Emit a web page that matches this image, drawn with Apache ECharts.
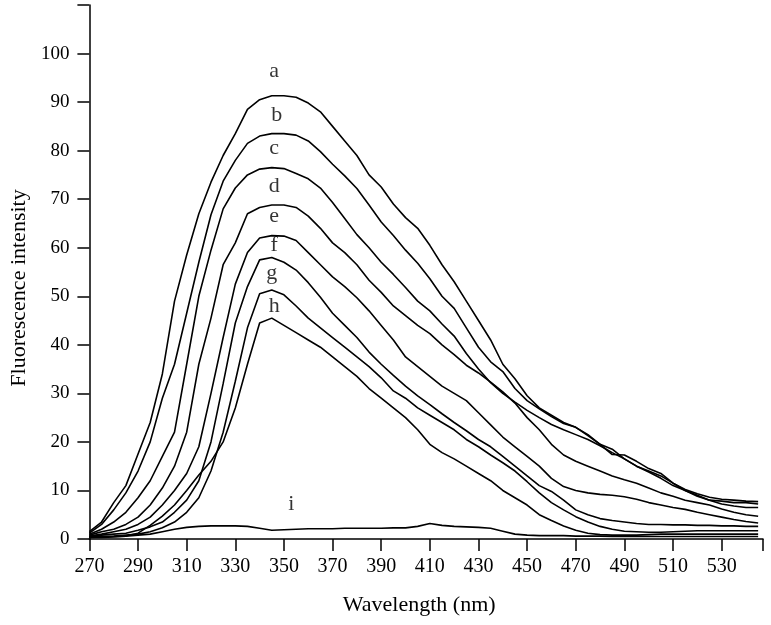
<!DOCTYPE html>
<html>
<head>
<meta charset="utf-8">
<script src="https://cdn.jsdelivr.net/npm/echarts@6/dist/echarts.min.js"></script>
<style>
html,body{margin:0;padding:0;background:#fff;}
#chart{width:771px;height:625px;}
</style>
</head>
<body>
<div id="chart"></div>
<script>
// Wavelength grid (nm)
const wavelengths = [270,275,280,285,290,295,300,305,310,315,320,325,330,335,340,345,350,355,360,365,
  370,375,380,385,390,395,400,405,410,415,420,425,430,435,440,445,450,455,460,465,
  470,475,480,485,490,495,500,505,510,515,520,525,530,535,540,545];

// Fluorescence intensity of each spectrum
const curveA = [1.5,3.5,7.5,11,17.5,24,34,49,58.5,67, 73.5,79,83.5,88.5,90.5,91.3,91.3,91,89.8,88,
  85,82,79,75,72.5,69,66.2,64,60.5,56.5, 53,49,45,41,36,33,29.5,27,25.5,24,
  23,21.5,19.5,17.4,17.3,16,14.5,13.5,11.5,10, 8.8,8,7.8,7.5,7.5,7.2];
const curveB = [1.2,3,6,9.5,14,20,29,36,46.5,57, 66.8,73.7,78,81.5,83,83.5,83.5,83.2,82,79.8,
  77.2,74.8,72.2,68.8,65.3,62.5,59.5,56.8,53.6,50, 47.5,43.5,39.5,36.5,34.5,31,28.5,26.8,25.2,23.8,
  23,21.3,19.5,18.5,16.5,15,14,13,11.5,10.2, 9.3,8.6,8.2,8,7.8,7.7];
const curveC = [1,2,3.5,5.5,8.5,12,17,22,36,50, 59.5,68,72.3,75,76.2,76.5,76.3,75.3,74.2,72.3,
  69.3,66,62.7,60,57,54.5,51.8,49,47,44.3, 41.8,38.2,35,32.2,30,28.2,26.5,25,23.6,22.5,
  21.5,20.5,19.2,17.8,16.5,15,13.8,12.5,11,10, 9,8,7.2,6.8,6.5,6.5];
const curveD = [0.8,1.5,2,3,4.5,7,10.5,15,22,36, 45.5,56.5,61,67,68.3,68.8,68.8,68.3,66.5,64,
  61,59,56.5,53.3,50.8,48,46,44,42.3,40, 38,35.8,34.2,32.3,30.3,28,25,22.5,19.5,17.3,
  16,15,14,13,12.2,11.5,10.5,9.5,8.8,8, 7.5,7,6.2,5.5,5,4.7];
const curveE = [0.6,1,1.5,2,3,4.5,7,10,13.5,19, 30,41.5,52.5,59,62,62.5,62.4,61.5,59,56.5,
  54,52,49.7,47,44,41,37.5,35.5,33.5,31.5, 30,28.5,26,23.5,21,19,17,15,12.5,10.8,
  10,9.5,9.2,9,8.7,8.2,7.5,7,6.5,6.1, 5.5,5,4.5,4,3.6,3.3];
const curveF = [0.5,0.8,1,1.2,1.8,2.5,3.5,5.5,8,12, 20,32,44.5,52,57.5,58,57,55.4,52.8,49.8,
  46.5,44,41.5,38.5,36,33.7,31.5,29.5,27.7,25.8, 24,22.3,20.5,19,17,15,13,11,9.8,8,
  6,5,4.2,3.8,3.5,3.2,3,3,2.9,2.9, 2.8,2.8,2.7,2.7,2.6,2.6];
const curveG = [0.4,0.5,0.6,0.8,1,1.5,2.3,3.5,5.5,8.5, 14,22,32.5,43.5,50.5,51.3,50.3,48,45.5,43.5,
  41.5,39.5,37.5,35.5,33.2,30.5,29,27,25.5,24, 22.5,20.5,19,17.3,15.7,14,11.8,9.5,7.5,6,
  4.6,3.5,2.6,2,1.6,1.5,1.4,1.4,1.5,1.6, 1.7,1.7,1.7,1.7,1.7,1.7];
const curveH = [0.3,0.3,0.4,0.6,1.2,2.8,4.7,7,10,13.2, 16,20,27,36,44.5,45.5,44,42.5,41,39.5,
  37.5,35.5,33.5,31,29,27,25,22.5,19.5,17.8, 16.5,15,13.5,12,10,8.5,7,5,3.8,2.7,
  1.8,1.2,0.9,0.8,0.8,0.8,0.9,1,1,1, 1,1,1,1,1,1];
const curveI = [0.3,0.4,0.5,0.6,0.8,1,1.5,2,2.4,2.6, 2.7,2.7,2.7,2.6,2.2,1.8,1.9,2,2.1,2.1,
  2.1,2.2,2.2,2.2,2.2,2.3,2.3,2.6,3.2,2.8, 2.6,2.5,2.4,2.2,1.6,1,0.8,0.7,0.7,0.7,
  0.6,0.6,0.6,0.5,0.5,0.5,0.5,0.5,0.5,0.5, 0.5,0.5,0.5,0.5,0.5,0.5];

const curveNames = ['a','b','c','d','e','f','g','h','i'];
const curves = [curveA,curveB,curveC,curveD,curveE,curveF,curveG,curveH,curveI];

// Curve letter annotations (data coordinates)
const labelX = [346,347,346,346,346,346,345,346,353];
const labelY = [96.3,87.3,80.5,72.7,66.5,60.6,54.8,48,7.2];

// Axis ticks
const xTickLabels = [270,290,310,330,350,370,390,410,430,450,470,490,510,530];
const xTickMarks = [270,290,310,330,350,370,390,410,430,450,470,490,510,530,547];
const yTickLabels = [0,10,20,30,40,50,60,70,80,90,100];

const serif = 'Liberation Serif, Times New Roman, serif';

const lineSeries = curves.map((vals, k) => ({
  name: curveNames[k],
  type: 'line',
  data: wavelengths.map((w, i) => [w, vals[i]]),
  showSymbol: false,
  symbol: 'none',
  lineStyle: {color: '#000', width: 1.6},
  silent: true
}));

const labelSeries = {
  type: 'scatter',
  symbolSize: 1,
  itemStyle: {color: 'rgba(0,0,0,0)'},
  silent: true,
  data: labelX.map((x, i) => ({value: [x, labelY[i]], name: curveNames[i]})),
  label: {
    show: true,
    position: 'inside',
    formatter: '{b}',
    color: '#000',
    fontFamily: serif,
    fontSize: 22
  }
};

const chart = echarts.init(document.getElementById('chart'), null, {renderer: 'canvas'});
chart.setOption({
  animation: false,
  backgroundColor: '#fff',
  grid: {left: 87, right: 8, top: 5, bottom: 86, containLabel: false},
  xAxis: {
    type: 'value',
    min: 270,
    max: 547,
    axisLine: {show: true, lineStyle: {color: '#000', width: 1.5}},
    axisTick: {show: true, customValues: xTickMarks, length: 12, lineStyle: {color: '#000', width: 1.5}},
    axisLabel: {customValues: xTickLabels, margin: 18, color: '#000', fontFamily: serif, fontSize: 20},
    splitLine: {show: false},
    name: 'Wavelength (nm)',
    nameLocation: 'middle',
    nameGap: 55,
    nameTextStyle: {color: '#000', fontFamily: serif, fontSize: 22, padding: [0, 14, 0, 0]}
  },
  yAxis: {
    type: 'value',
    min: 0,
    max: 110,
    interval: 10,
    axisLine: {show: true, lineStyle: {color: '#000', width: 1.5}},
    axisTick: {show: true, length: 12, lineStyle: {color: '#000', width: 1.5}},
    axisLabel: {customValues: yTickLabels, margin: 20, color: '#000', fontFamily: serif, fontSize: 19},
    splitLine: {show: false},
    name: 'Fluorescence intensity',
    nameLocation: 'middle',
    nameGap: 58,
    nameTextStyle: {color: '#000', fontFamily: serif, fontSize: 22, padding: [0, 32, 0, 0]}
  },
  series: lineSeries.concat([labelSeries])
});
</script>
</body>
</html>
